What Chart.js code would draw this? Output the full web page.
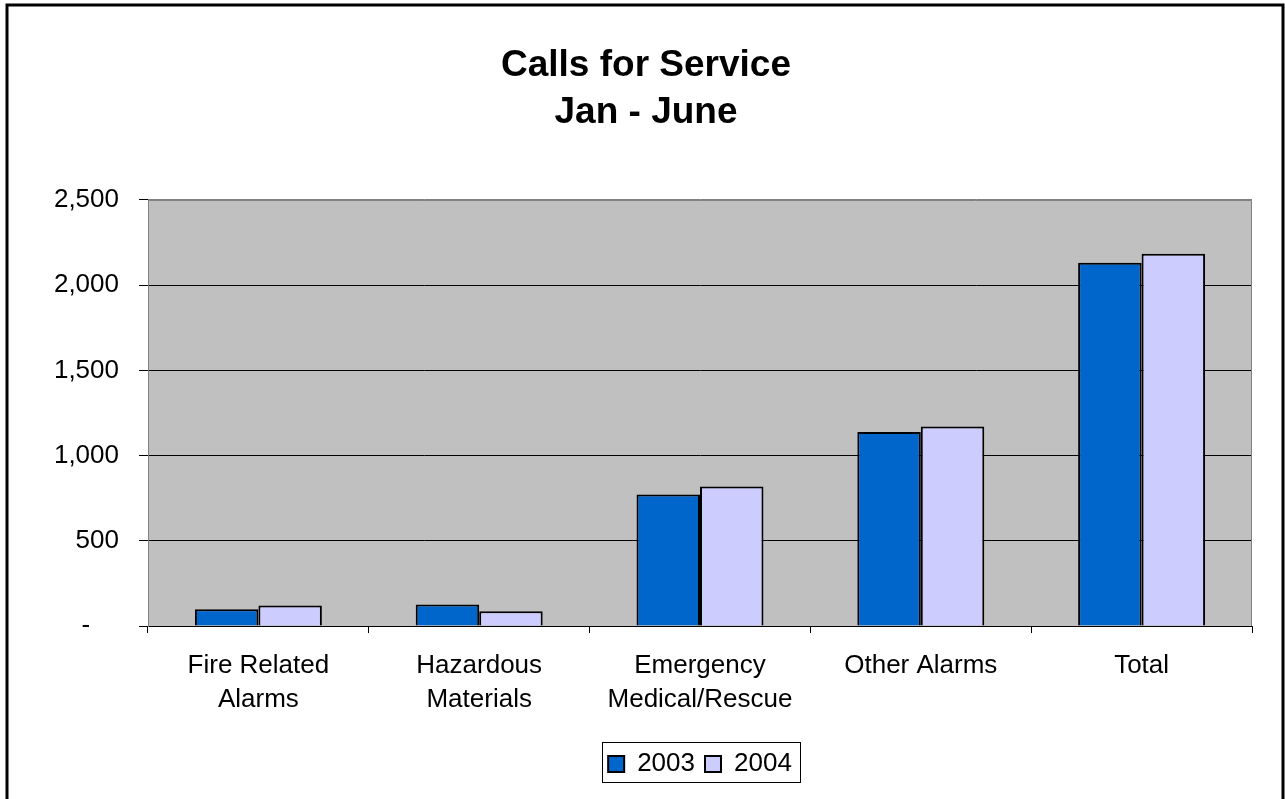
<!DOCTYPE html>
<html>
<head>
<meta charset="utf-8">
<script src="https://cdn.jsdelivr.net/npm/chart.js@4"></script>
<style>
  html, body { margin: 0; padding: 0; background: #fff; }
  #c { display: block; width: 1285px; height: 799px; }
</style>
</head>
<body>
<canvas id="c" width="1285" height="799"></canvas>
<script>
const categories = [
  ['Fire Related', 'Alarms'],
  ['Hazardous', 'Materials'],
  ['Emergency', 'Medical/Rescue'],
  ['Other Alarms'],
  ['Total']
];
const seriesNames = ['2003', '2004'];
const values2003 = [98, 126, 772, 1138, 2132];
const values2004 = [120, 86, 818, 1170, 2185];
const yTicks = [0, 500, 1000, 1500, 2000, 2500];
const titleLines = ['Calls for Service', 'Jan - June'];

const FONT = "'Liberation Sans', Arial, sans-serif";

const framePlugin = {
  id: 'frame',
  beforeDraw(chart) {
    const {ctx, chartArea: a} = chart;
    ctx.save();
    ctx.fillStyle = '#ffffff';
    ctx.fillRect(0, 0, chart.width, chart.height);
    ctx.fillStyle = '#C0C0C0';
    ctx.fillRect(a.left, a.top, a.right - a.left, a.bottom - a.top);
    ctx.restore();
  },
  afterDraw(chart) {
    const {ctx, chartArea: a} = chart;
    ctx.save();
    // plot area right/top border
    ctx.strokeStyle = '#808080';
    ctx.lineWidth = 1;
    ctx.beginPath();
    ctx.moveTo(a.left, a.top + 0.5);
    ctx.lineTo(a.right - 0.5, a.top + 0.5);
    ctx.lineTo(a.right - 0.5, a.bottom);
    ctx.stroke();
    // outer chart frame
    ctx.strokeStyle = '#000';
    ctx.lineWidth = 3;
    ctx.beginPath();
    ctx.moveTo(7, chart.height + 5);
    ctx.lineTo(7, 5);
    ctx.lineTo(1283, 5);
    ctx.lineTo(1283, chart.height + 5);
    ctx.stroke();
    // legend frame
    const lg = chart.legend;
    if (lg && lg.legendHitBoxes && lg.legendHitBoxes.length) {
      const hb = lg.legendHitBoxes;
      const l = hb[0].left - 6;
      const last = hb[hb.length - 1];
      const r = last.left + last.width + 8;
      ctx.lineWidth = 1;
      ctx.strokeStyle = '#000';
      ctx.strokeRect(Math.round(l) + 0.5, 742.5, Math.round(r - l), 40);
    }
    ctx.restore();
  }
};

new Chart(document.getElementById('c'), {
  type: 'bar',
  data: {
    labels: categories,
    datasets: [
      {
        label: seriesNames[0],
        data: values2003,
        backgroundColor: '#0066CC',
        borderColor: '#000000',
        borderWidth: 2,
        barPercentage: 1.0,
        categoryPercentage: 0.575
      },
      {
        label: seriesNames[1],
        data: values2004,
        backgroundColor: '#CCCCFF',
        borderColor: '#000000',
        borderWidth: 2,
        barPercentage: 1.0,
        categoryPercentage: 0.575
      }
    ]
  },
  options: {
    responsive: false,
    devicePixelRatio: 1,
    animation: false,
    layout: { padding: { left: 40, right: 33, top: 0, bottom: 12 } },
    plugins: {
      title: {
        display: true,
        text: titleLines,
        color: '#000',
        font: { family: FONT, size: 37, weight: 'bold', lineHeight: 1.27 },
        padding: { top: 42.5, bottom: 63.5 }
      },
      legend: {
        display: true,
        position: 'bottom',
        fullSize: false,
        labels: {
          color: '#000',
          font: { family: FONT, size: 26 },
          boxWidth: 16,
          boxHeight: 16,
          padding: 10,
          generateLabels(chart) {
            return chart.data.datasets.map((ds, i) => ({
              text: ds.label,
              fillStyle: ds.backgroundColor,
              strokeStyle: '#000',
              lineWidth: 2,
              datasetIndex: i,
              hidden: false,
              fontColor: '#000'
            }));
          }
        }
      },
      tooltip: { enabled: false }
    },
    scales: {
      x: {
        afterFit(scale) { scale.height = 115; },
        grid: {
          display: true,
          offset: true,
          drawOnChartArea: false,
          drawTicks: true,
          tickLength: 7,
          color: '#000',
          lineWidth: 1
        },
        border: { display: true, color: '#000', width: 1 },
        ticks: {
          color: '#000',
          font: { family: FONT, size: 26, lineHeight: 1.3 },
          padding: 16,
          maxRotation: 0,
          autoSkip: false
        }
      },
      y: {
        min: 0,
        max: 2500,
        afterFit(scale) { scale.width = 108; },
        afterBuildTicks(scale) { scale.ticks = yTicks.map(v => ({ value: v })); },
        grid: {
          color: (ctx) => (ctx.tick && ctx.tick.value === 2500) ? '#808080' : '#000',
          tickColor: '#000',
          lineWidth: 1,
          drawTicks: true,
          tickLength: 9
        },
        border: { display: true, color: '#808080', width: 1 },
        ticks: {
          color: '#000',
          font: { family: FONT, size: 26 },
          padding: 20,
          callback: (v) => v === 0 ? '-    ' : Number(v).toLocaleString('en-US')
        }
      }
    }
  },
  plugins: [framePlugin]
});
</script>
</body>
</html>
